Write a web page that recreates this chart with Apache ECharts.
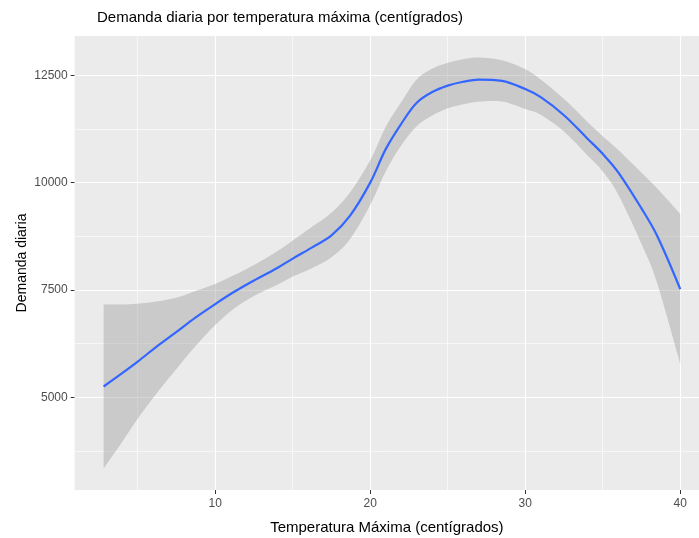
<!DOCTYPE html>
<html><head><meta charset="utf-8">
<script src="https://cdn.jsdelivr.net/npm/echarts@6/dist/echarts.min.js"></script>
<style>html,body{margin:0;padding:0;background:#fff}#c{width:699px;height:538px}</style>
</head><body><div id="c"></div>
<script>
// Temperatura máxima (°C)
const temps = [2.8, 4, 5, 6.2, 7.5, 8.7, 10, 11.2, 12.5, 14, 15, 16.2, 17.5, 18.7, 20, 21, 22, 23, 24, 25, 26, 27, 28.5, 30, 31, 32.5, 34, 35, 36, 37.5, 38.5, 40];
// Curva suavizada (loess)
const fit = [5250, 5560, 5830, 6170, 6520, 6850, 7170, 7450, 7720, 8010, 8230, 8480, 8770, 9230, 10000, 10780, 11370, 11860, 12110, 12260, 12350, 12400, 12370, 12180, 11990, 11570, 11030, 10670, 10240, 9400, 8770, 7520];
// Banda de confianza
const upper = [7160, 7160, 7180, 7230, 7320, 7470, 7640, 7840, 8080, 8400, 8650, 8960, 9300, 9775, 10520, 11300, 11875, 12405, 12655, 12790, 12875, 12915, 12850, 12645, 12400, 11950, 11420, 11080, 10760, 10230, 9870, 9270];
const lower = [3340, 3960, 4500, 5080, 5660, 6180, 6680, 7060, 7360, 7620, 7810, 8000, 8260, 8685, 9480, 10260, 10865, 11315, 11565, 11730, 11825, 11885, 11890, 11715, 11580, 11190, 10640, 10260, 9720, 8570, 7670, 5770];
const xTicks = [10, 20, 30, 40];
const yTicks = [5000, 7500, 10000, 12500];
const xMinor = [5, 15, 25, 35];
const yMinor = [3750, 6250, 8750, 11250];

const FONT = 'Liberation Sans, Arial, sans-serif';
const chart = echarts.init(document.getElementById('c'), null, {renderer: 'canvas'});

const gridLines = [];
xTicks.forEach(v => gridLines.push({xAxis: v, lineStyle: {width: 1.1}}));
yTicks.forEach(v => gridLines.push({yAxis: v, lineStyle: {width: 1.1}}));
xMinor.forEach(v => gridLines.push({xAxis: v, lineStyle: {width: 0.6}}));
yMinor.forEach(v => gridLines.push({yAxis: v, lineStyle: {width: 0.6}}));

const fitData = temps.map((t, i) => [t, fit[i]]);

// Catmull-Rom sampling in pixel space (drawing only)
function smoothPts(pts) {
  const out = [];
  for (let i = 0; i < pts.length - 1; i++) {
    const p0 = pts[i - 1] || pts[i], p1 = pts[i], p2 = pts[i + 1], p3 = pts[i + 2] || pts[i + 1];
    const c1 = [p1[0] + (p2[0] - p0[0]) / 6, p1[1] + (p2[1] - p0[1]) / 6];
    const c2 = [p2[0] - (p3[0] - p1[0]) / 6, p2[1] - (p3[1] - p1[1]) / 6];
    const n = 12;
    for (let k = 0; k < n; k++) {
      const s = k / n, u = 1 - s;
      out.push([
        u*u*u*p1[0] + 3*u*u*s*c1[0] + 3*u*s*s*c2[0] + s*s*s*p2[0],
        u*u*u*p1[1] + 3*u*u*s*c1[1] + 3*u*s*s*c2[1] + s*s*s*p2[1]
      ]);
    }
  }
  out.push(pts[pts.length - 1]);
  return out;
}

chart.setOption({
  animation: false,
  textStyle: {fontFamily: FONT},
  title: {
    text: 'Demanda diaria por temperatura máxima (centígrados)',
    left: 97, top: 10, padding: 0,
    textStyle: {fontSize: 15, fontWeight: 'normal', color: '#000', fontFamily: FONT}
  },
  grid: {left: 74.7, top: 36, right: 0, bottom: 48, show: true, backgroundColor: '#EBEBEB', borderWidth: 0,
    containLabel: false, outerBoundsMode: 'none'},
  xAxis: {
    type: 'value', min: 0.935, max: 41.21,
    splitLine: {show: false}, axisLine: {show: false},
    axisTick: {show: true, customValues: xTicks, length: 4, lineStyle: {color: '#333', width: 1}},
    axisLabel: {customValues: xTicks, color: '#4D4D4D', fontSize: 12, margin: 8, fontFamily: FONT,
      formatter: v => String(v)},
    name: 'Temperatura Máxima (centígrados)', nameLocation: 'middle', nameGap: 30, nameMoveOverlap: false,
    nameTextStyle: {fontSize: 15, color: '#000', fontFamily: FONT}
  },
  yAxis: {
    type: 'value', min: 2838, max: 13416,
    splitLine: {show: false}, axisLine: {show: false},
    axisTick: {show: true, customValues: yTicks, length: 4, lineStyle: {color: '#333', width: 1}},
    axisLabel: {customValues: yTicks, color: '#4D4D4D', fontSize: 12, margin: 7, fontFamily: FONT,
      formatter: v => String(v)},
    name: 'Demanda diaria', nameLocation: 'middle', nameGap: 46, nameMoveOverlap: false,
    nameTextStyle: {fontSize: 14, color: '#000', fontFamily: FONT}
  },
  series: [
    {
      name: 'band', type: 'custom', coordinateSystem: 'cartesian2d', data: [[temps[0], fit[0]]],
      z: 3, silent: true,
      renderItem: function (params, api) {
        const top = smoothPts(temps.map((t, i) => api.coord([t, upper[i]])));
        const bot = smoothPts(temps.map((t, i) => api.coord([t, lower[i]]))).reverse();
        return {
          type: 'polygon',
          shape: {points: top.concat(bot)},
          style: {fill: 'rgba(153,153,153,0.4)'}
        };
      }
    },
    {
      name: 'fit', type: 'line', data: fitData, symbol: 'none', smooth: 0.35,
      lineStyle: {color: '#3366FF', width: 2.2}, z: 4, silent: true,
      markLine: {
        silent: true, symbol: 'none', z: 1, animation: false,
        label: {show: false},
        lineStyle: {color: '#FFFFFF', type: 'solid'},
        data: gridLines
      }
    }
  ]
});
</script>
</body></html>
